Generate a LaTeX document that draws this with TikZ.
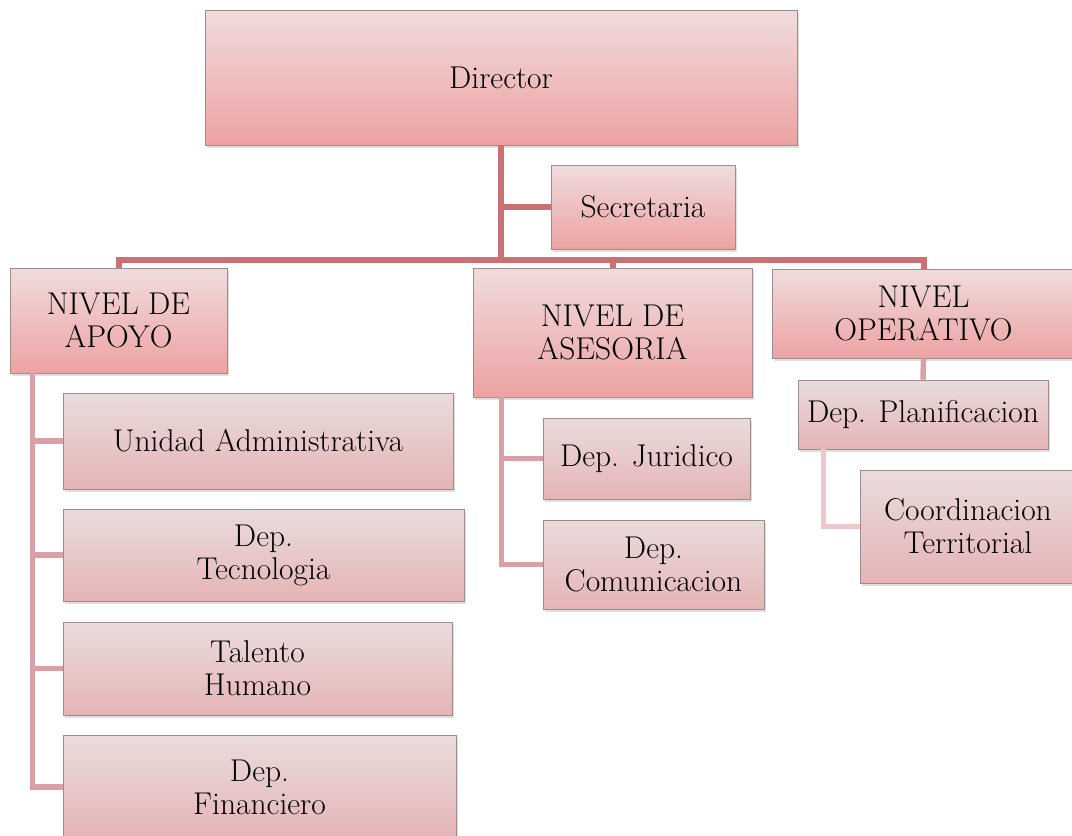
\documentclass[tikz,border=0pt]{standalone}
\usetikzlibrary{shadows}
\definecolor{topA}{HTML}{F0DCDC}
\definecolor{botA}{HTML}{EDA2A3}
\definecolor{topB}{HTML}{EADCDC}
\definecolor{botB}{HTML}{E5B4B6}
\definecolor{edge}{HTML}{9C8C8C}
\definecolor{lnA}{HTML}{CB7173}
\definecolor{lnB}{HTML}{DBA0A5}
\definecolor{lnC}{HTML}{EDC9CD}
\tikzset{
  box/.style={draw=edge, line width=0.8pt, rectangle, inner sep=0pt, align=center,
    font=\fontsize{31.5}{33}\selectfont,
    drop shadow={opacity=0.25, shadow xshift=1.5pt, shadow yshift=-3pt}},
  boxA/.style={box, top color=topA, bottom color=botA},
  boxB/.style={box, top color=topB, bottom color=botB},
  lineA/.style={draw=lnA, line width=6pt},
  lineB/.style={draw=lnB, line width=5.5pt},
  lineC/.style={draw=lnC, line width=5pt},
}
\begin{document}
\begin{tikzpicture}[x=1pt, y=-1pt]
\useasboundingbox (0,0) rectangle (1072,836);
\coordinate (bar) at (501,260);
\node[boxA, minimum width=592, minimum height=135] (dir) at (501,77.5) {Director};
\node[boxA, minimum width=184, minimum height=84] (sec) at (643,207) {Secretaria};
\node[boxA, minimum width=217, minimum height=105] (apo) at (118.5,320.5) {NIVEL DE\\APOYO};
\node[boxA, minimum width=279, minimum height=129] (ase) at (612.5,332.5) {NIVEL DE\\ASESORIA};
\node[boxA, minimum width=303, minimum height=89] (ope) at (923.5,313.5) {NIVEL\\OPERATIVO};
\node[boxB, minimum width=390, minimum height=96] (uni) at (258,441) {Unidad Administrativa};
\node[boxB, minimum width=401, minimum height=92] (tec) at (263.5,555) {Dep.\\Tecnologia};
\node[boxB, minimum width=389, minimum height=93] (tal) at (257.5,668.5) {Talento\\Humano};
\node[boxB, minimum width=393, minimum height=104] (fin) at (259.5,787) {Dep.\\Financiero};
\node[boxB, minimum width=207, minimum height=81] (jur) at (646.5,458.5) {Dep. Juridico};
\node[boxB, minimum width=221, minimum height=89] (com) at (653.5,564.5) {Dep.\\Comunicacion};
\node[boxB, minimum width=250, minimum height=69] (pla) at (923,414.5) {Dep. Planificacion};
\node[boxB, minimum width=216, minimum height=113] (coo) at (968,526.5) {Coordinacion\\Territorial};
\draw[lineA] (dir.south) -- (bar);
\draw[lineA] (dir.south |- sec.west) -- (sec.west);
\draw[lineA] (apo.north) |- (bar) -| (ope.north);
\draw[lineA] (ase.north) -- (ase.north |- bar);
\draw[lineB] (ope.south) -- (pla.north);
\draw[lineB] ([xshift=23pt]apo.south west) |- (uni.west);
\draw[lineB] ([xshift=23pt]apo.south west) |- (tec.west);
\draw[lineB] ([xshift=23pt]apo.south west) |- (tal.west);
\draw[lineB] ([xshift=23pt]apo.south west) |- (fin.west);
\draw[lineB] ([xshift=29pt]ase.south west) |- (jur.west);
\draw[lineB] ([xshift=29pt]ase.south west) |- (com.west);
\draw[lineC] ([xshift=26pt]pla.south west) |- (coo.west);
\end{tikzpicture}
\end{document}
